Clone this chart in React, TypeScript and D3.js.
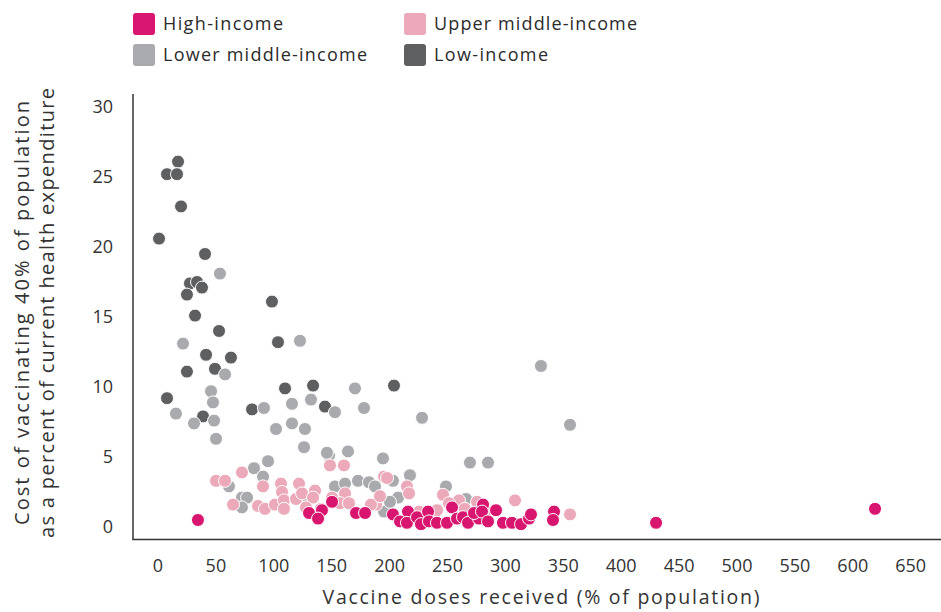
import React from "react";
import * as d3 from "d3";

const lowIncome: [number, number][] = [
  [17.3, 26.1], [7.8, 25.2], [16.4, 25.2], [19.9, 22.9], [0.9, 20.6], [40.6, 19.5],
  [27.6, 17.4], [33.7, 17.5], [38.0, 17.1], [25.0, 16.6], [32.0, 15.1], [52.7, 14.0],
  [98.4, 16.1], [103.6, 13.2], [41.5, 12.3], [63.0, 12.1], [25.0, 11.1], [49.2, 11.3],
  [7.8, 9.2], [109.7, 9.9], [133.9, 10.1], [203.8, 10.1], [81.2, 8.4], [144.2, 8.6],
  [38.9, 7.9],
];

const lowerMiddle: [number, number][] = [
  [53.5, 18.1], [21.6, 13.1], [122.6, 13.3], [57.9, 10.9], [45.8, 9.7], [47.5, 8.9],
  [15.5, 8.1], [91.5, 8.5], [115.7, 8.8], [132.1, 9.1], [170.1, 9.9], [152.8, 8.2],
  [177.9, 8.5], [228.0, 7.8], [330.7, 11.5], [355.8, 7.3], [31.1, 7.4], [48.4, 7.6],
  [50.1, 6.3], [101.9, 7.0], [115.7, 7.4], [126.9, 7.0], [126.1, 5.7], [147.7, 5.1],
  [145.9, 5.3], [164.1, 5.4], [194.3, 4.9], [95.0, 4.7], [82.9, 4.2], [90.7, 3.6],
  [61.3, 2.9], [72.5, 2.1], [76.9, 2.1], [72.5, 1.4], [152.8, 2.9], [161.5, 3.1],
  [172.7, 3.3], [182.2, 3.2], [187.4, 2.9], [202.9, 3.3], [217.6, 3.7], [207.3, 2.1],
  [195.2, 1.1], [127.8, 2.2], [269.4, 4.6], [285.0, 4.6], [248.7, 2.9], [200.3, 1.8],
  [266.0, 2.0],
];

const upperMiddle: [number, number][] = [
  [50.1, 3.3], [57.9, 3.3], [72.5, 3.9], [64.8, 1.6], [86.4, 1.5], [92.4, 1.3],
  [101.0, 1.6], [90.7, 2.9], [106.2, 3.1], [107.1, 2.5], [108.8, 1.9], [108.8, 1.3],
  [119.2, 2.0], [121.8, 3.1], [124.4, 2.4], [135.6, 2.6], [133.9, 2.1], [148.5, 4.4],
  [160.6, 4.4], [150.3, 2.1], [161.5, 2.4], [157.2, 1.7], [164.9, 1.7], [127.8, 1.4],
  [140.8, 1.3], [188.3, 1.6], [183.9, 1.6], [191.7, 2.2], [195.2, 3.6], [197.8, 3.5],
  [215.0, 2.9], [216.8, 2.4], [308.3, 1.9], [355.8, 0.9], [246.1, 2.3], [259.9, 1.9],
  [275.5, 1.8], [251.3, 1.7], [225.4, 1.1], [241.0, 1.2], [265.0, 1.3], [283.0, 1.1],
];

const highIncome: [number, number][] = [
  [34.5, 0.5], [130.4, 1.0], [141.6, 1.2], [138.2, 0.6], [150.3, 1.8], [171.0, 1.0],
  [178.8, 1.0], [202.9, 0.9], [209.0, 0.4], [215.9, 1.1], [215.0, 0.3], [223.7, 0.7],
  [227.1, 0.2], [233.2, 1.1], [234.0, 0.4], [240.9, 0.3], [249.6, 0.3], [253.9, 1.4],
  [258.2, 0.6], [263.4, 0.7], [267.7, 0.3], [277.2, 0.6], [272.9, 1.0], [280.7, 1.6],
  [279.8, 1.1], [285.0, 0.4], [291.9, 1.2], [297.9, 0.3], [305.7, 0.3], [313.5, 0.2],
  [320.4, 0.6], [322.1, 0.9], [342.0, 1.1], [341.1, 0.5], [430.1, 0.3], [619.2, 1.3],
];

const seriesNames = ["High-income", "Upper middle-income", "Lower middle-income", "Low-income"];
const seriesColors = ["#d9166f", "#eba9b9", "#a9aaad", "#5e5f61"];

const xTicks = [0, 50, 100, 150, 200, 250, 300, 350, 400, 450, 500, 550, 600, 650];
const yTicks = [0, 5, 10, 15, 20, 25, 30];

const xTitle = "Vaccine doses received (% of population)";
const yTitle1 = "Cost of vaccinating 40% of population";
const yTitle2 = "as a percent of current health expenditure";

export default function App() {
  const W = 941;
  const H = 612;
  const font = "'Open Sans', sans-serif";
  const x = d3.scaleLinear().domain([0, 650]).range([158, 910.7]);
  const y = d3.scaleLinear().domain([0, 30]).range([527, 107]);

  const drawOrder: [number, [number, number][]][] = [
    [3, lowIncome],
    [2, lowerMiddle],
    [1, upperMiddle],
    [0, highIncome],
  ];

  const legendPos = [
    [133, 13],
    [404, 13],
    [133, 44],
    [404, 44],
  ];
  const legendLen = [120, 203, 204, 114];

  return (
    <svg width={W} height={H} style={{ position: "absolute", left: 0, top: 0 }} fontFamily={font}>
      <rect width={W} height={H} fill="#fff" />
      {/* legend */}
      {seriesNames.map((n, i) => (
        <g key={n} transform={`translate(${legendPos[i][0]},${legendPos[i][1]})`}>
          <rect width={22} height={22} rx={3} fill={seriesColors[i]} />
          <text
            x={30}
            y={11}
            dy="0.36em"
            fontSize={18}
            fill="#2b2b2b"
            fontWeight={500}
            textLength={legendLen[i]}
            lengthAdjust="spacing"
          >
            {n}
          </text>
        </g>
      ))}
      {/* axes */}
      <line x1={133} x2={133} y1={94} y2={539.5} stroke="#333" strokeWidth={1.5} />
      <line x1={132.25} x2={941} y1={539.5} y2={539.5} stroke="#333" strokeWidth={1.5} />
      {yTicks.map((t) => (
        <text key={t} x={113} y={y(t)} dy="0.36em" textAnchor="end" fontSize={18} fill="#333">
          {t}
        </text>
      ))}
      {xTicks.map((t) => (
        <text key={t} x={x(t)} y={566} dy="0.36em" textAnchor="middle" fontSize={18} fill="#333">
          {t}
        </text>
      ))}
      <text
        x={541}
        y={597}
        dy="0.36em"
        textAnchor="middle"
        fontSize={19.5}
        fill="#333"
        textLength={437}
        lengthAdjust="spacing"
      >
        {xTitle}
      </text>
      <g transform="translate(22,313) rotate(-90)">
        <text
          x={0}
          y={0}
          dy="0.36em"
          textAnchor="middle"
          fontSize={20}
          fill="#333"
          textLength={424}
          lengthAdjust="spacing"
        >
          {yTitle1}
        </text>
        <text
          x={0}
          y={25}
          dy="0.36em"
          textAnchor="middle"
          fontSize={20}
          fill="#333"
          textLength={450}
          lengthAdjust="spacing"
        >
          {yTitle2}
        </text>
      </g>
      {/* points */}
      {drawOrder.map(([ci, data]) => (
        <g key={ci}>
          {data.map((d, j) => (
            <circle
              key={j}
              cx={x(d[0])}
              cy={y(d[1])}
              r={6.5}
              fill={seriesColors[ci]}
              stroke="#fff"
              strokeWidth={1}
            />
          ))}
        </g>
      ))}
    </svg>
  );
}
